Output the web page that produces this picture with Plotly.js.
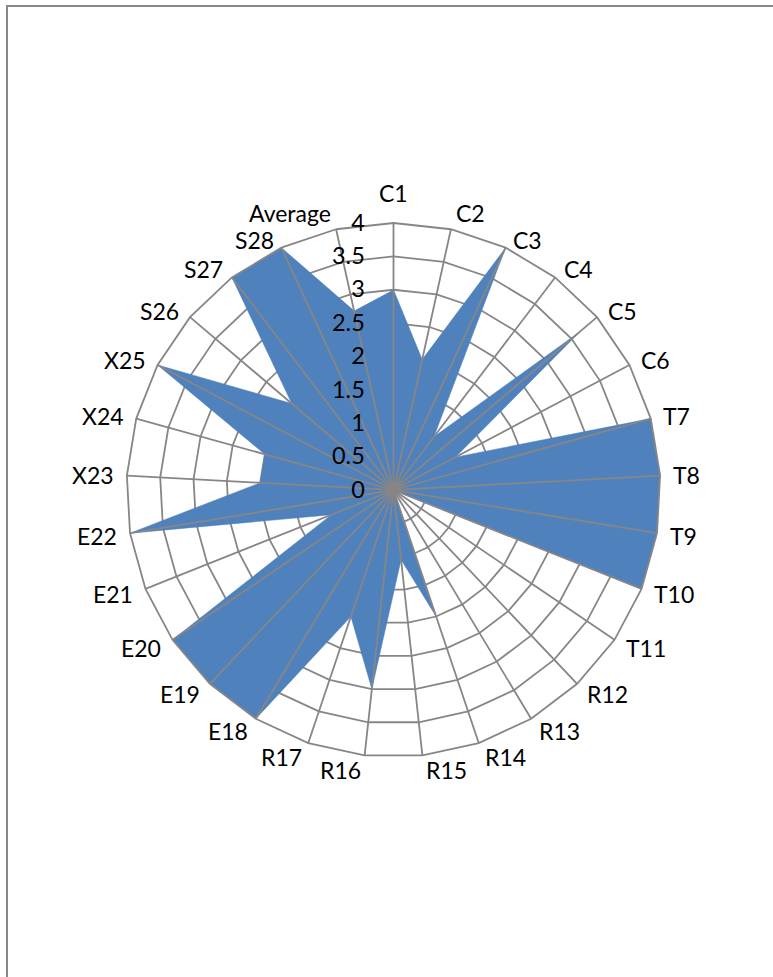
<!DOCTYPE html>
<html>
<head>
<meta charset="utf-8">
<script src="https://cdn.plot.ly/plotly-3.0.1.min.js"></script>
<style>
  html, body { margin: 0; padding: 0; background: #ffffff; }
  #chart { width: 773px; height: 977px; }
</style>
</head>
<body>
<div id="chart"></div>
<script>
// ---- data ----
var categories = ["C1","C2","C3","C4","C5","C6","T7","T8","T9","T10","T11",
                  "R12","R13","R14","R15","R16","R17","E18","E19","E20","E21",
                  "E22","X23","X24","X25","S26","S27","S28","Average"];
var values = [3.0, 2.0, 4.0, 1.0, 3.67, 1.05, 4.0, 4.0, 4.0, 4.0, 0.0,
              0.0, 0.0, 2.0, 1.05, 3.0, 2.0, 4.0, 4.0, 4.0, 1.0,
              4.0, 2.0, 2.0, 4.0, 2.0, 4.0, 4.0, 2.75];
var radialTicks = [0, 0.5, 1, 1.5, 2, 2.5, 3, 3.5, 4];
var rMax = 4;

// spokes drawn above the fill (as in the original)
var spokeR = [], spokeT = [];
categories.forEach(function (c) {
  spokeR.push(0, rMax, null);
  spokeT.push(c, c, null);
});

var gridColor = "#868686";
var fontFam = "Lato, 'Open Sans', sans-serif";
var fs = 23;

var traces = [
  {
    type: "scatterpolar",
    r: values,
    theta: categories,
    fill: "toself",
    fillcolor: "#4F81BD",
    line: { color: "#4F81BD", width: 0.5 },
    mode: "lines",
    name: "Average",
    hoverinfo: "skip"
  },
  {
    type: "scatterpolar",
    r: spokeR,
    theta: spokeT,
    mode: "lines",
    line: { color: gridColor, width: 1.8 },
    connectgaps: false,
    hoverinfo: "skip",
    showlegend: false
  }
];

var W = 773, H = 977;
var cx = 393.5, cy = 490, R = 267;

// category labels placed Excel-style next to each outer vertex
var n = categories.length;
var annotations = categories.map(function (c, i) {
  var a = i * 2 * Math.PI / n;
  var s = Math.sin(a), co = Math.cos(a);
  var as = Math.abs(s);
  var vx = cx + R * s, vy = cy - R * co;
  var xa, px, py;
  if (as < 0.05) { xa = "center"; px = vx; }
  else if (s > 0) { xa = "left"; px = vx + 2 + 10 * as; }
  else { xa = "right"; px = vx - 2 - 10 * as; }
  if (as < 0.05 && co > 0) py = vy - 30;
  else if (co >= 0 && as < 0.3) py = vy - 17 * co;
  else if (co >= 0 && as < 0.5) py = vy - 8 * co;
  else if (co >= 0) py = vy - 10 * co;
  else py = vy - 14.5 * co;
  return {
    xref: "paper", yref: "paper",
    x: px / W, y: 1 - py / H,
    xanchor: xa, yanchor: "middle",
    text: c, showarrow: false, borderpad: 0,
    font: { family: fontFam, size: fs, color: "#000000" }
  };
});

var layout = {
  width: W, height: H,
  margin: { l: 0, r: 0, t: 0, b: 0 },
  paper_bgcolor: "#ffffff",
  showlegend: false,
  font: { family: fontFam, size: fs, color: "#000000" },
  polar: {
    domain: {
      x: [(cx - R) / W, (cx + R) / W],
      y: [(H - cy - R) / H, (H - cy + R) / H]
    },
    bgcolor: "#ffffff",
    gridshape: "linear",
    radialaxis: {
      range: [0, rMax],
      tickvals: radialTicks,
      ticktext: radialTicks.map(String),
      angle: 90,
      side: "counterclockwise",
      tickangle: 90,
      showline: false,
      ticks: "outside",
      ticklen: 20,
      tickcolor: "rgba(0,0,0,0)",
      showgrid: true,
      gridcolor: gridColor,
      gridwidth: 1.8,
      tickfont: { family: fontFam, size: 23.5, color: "#000000" },
      layer: "above traces"
    },
    angularaxis: {
      type: "category",
      categoryarray: categories,
      direction: "clockwise",
      rotation: 90,
      showline: true,
      linecolor: gridColor,
      linewidth: 1.8,
      showgrid: false,
      ticks: "",
      showticklabels: false
    }
  },
  annotations: annotations,
  shapes: [
    {
      type: "path",
      xref: "paper", yref: "paper",
      path: "M " + (7 / W) + " -0.1 L " + (7 / W) + " " + (1 - 6 / H) + " L 1.1 " + (1 - 6 / H),
      line: { color: "#888888", width: 2 }
    }
  ]
};

Plotly.newPlot("chart", traces, layout, { displayModeBar: false, staticPlot: true });
</script>
</body>
</html>
